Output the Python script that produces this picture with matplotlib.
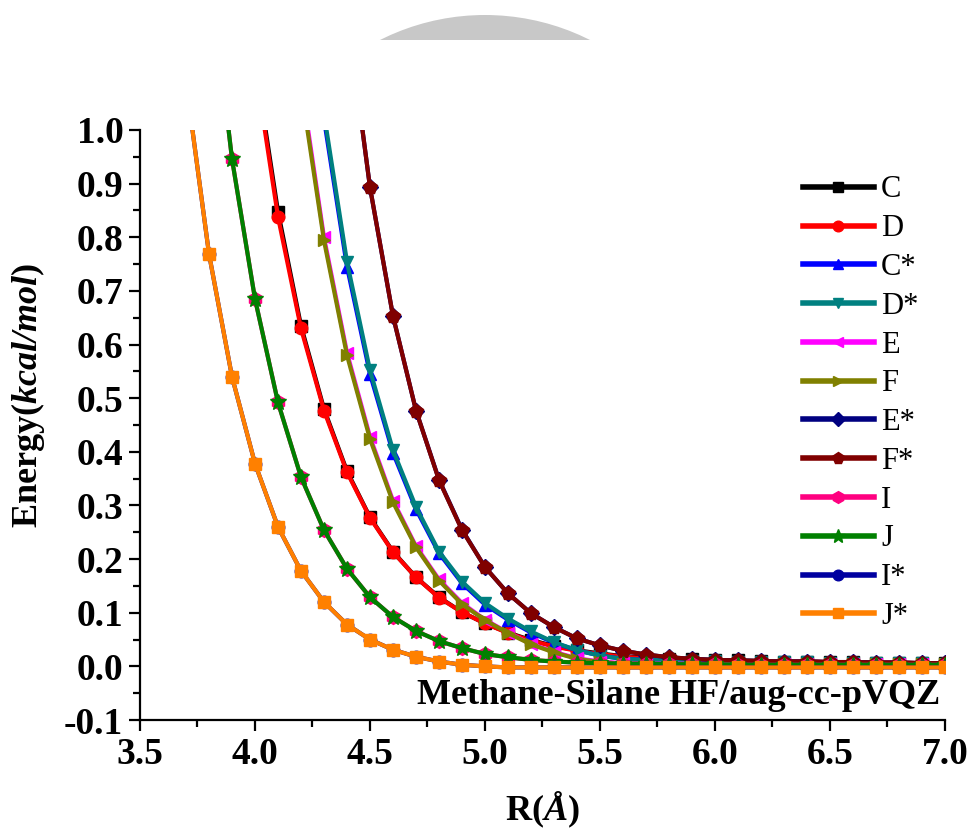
import matplotlib
matplotlib.use("Agg")
import matplotlib.pyplot as plt
from matplotlib.patches import Circle, Rectangle
import numpy as np

plt.rcParams['font.family'] = ['Liberation Serif', 'DejaVu Serif']
plt.rcParams['mathtext.fontset'] = 'custom'
plt.rcParams['mathtext.rm'] = 'Liberation Serif'
plt.rcParams['mathtext.it'] = 'Liberation Serif:italic'
plt.rcParams['mathtext.bf'] = 'Liberation Serif:bold'
plt.rcParams['mathtext.bfit'] = 'Liberation Serif:italic:bold'

# ---------------- data ----------------
x_CD = np.round(np.arange(4.0, 7.001, 0.1), 2)
C = [1.13, 0.848, 0.635, 0.480, 0.364, 0.278, 0.214, 0.166, 0.129, 0.101, 0.080,
     0.063, 0.049, 0.038, 0.030, 0.024, 0.019, 0.016, 0.014, 0.013, 0.012,
     0.011, 0.010, 0.009, 0.009, 0.008, 0.008, 0.007, 0.007, 0.006, 0.006]
D = [1.12, 0.838, 0.630, 0.477, 0.362, 0.277, 0.213, 0.166, 0.128, 0.101, 0.080,
     0.062, 0.048, 0.037, 0.029, 0.023, 0.018, 0.015, 0.013, 0.012, 0.011,
     0.010, 0.010, 0.009, 0.009, 0.008, 0.008, 0.007, 0.007, 0.006, 0.006]

x_CsDs = np.round(np.arange(4.3, 7.001, 0.1), 2)
Cs = [1.02, 0.745, 0.545, 0.398, 0.293, 0.211, 0.155, 0.115, 0.087, 0.063, 0.044,
      0.030, 0.020, 0.014, 0.012, 0.011, 0.010, 0.010, 0.009, 0.009, 0.008,
      0.008, 0.007, 0.007, 0.006, 0.006, 0.006, 0.005]
Ds = [1.03, 0.754, 0.552, 0.403, 0.297, 0.214, 0.158, 0.118, 0.089, 0.065, 0.045,
      0.030, 0.020, 0.014, 0.012, 0.011, 0.010, 0.010, 0.009, 0.009, 0.008,
      0.008, 0.007, 0.007, 0.006, 0.006, 0.006, 0.005]

x_EF = np.round(np.arange(4.2, 7.001, 0.1), 2)
E = [1.09, 0.800, 0.585, 0.428, 0.309, 0.224, 0.162, 0.118, 0.087, 0.063, 0.042,
     0.027, 0.015, 0.009, 0.006, 0.005, 0.005, 0.005, 0.005, 0.005, 0.005,
     0.005, 0.005, 0.005, 0.005, 0.005, 0.005, 0.005, 0.005]
F = [1.08, 0.794, 0.580, 0.424, 0.306, 0.222, 0.160, 0.116, 0.086, 0.062, 0.041,
     0.026, 0.014, 0.008, 0.005, 0.004, 0.004, 0.004, 0.004, 0.004, 0.004,
     0.004, 0.004, 0.004, 0.004, 0.004, 0.004, 0.004, 0.004]

x_EsFs = np.round(np.arange(4.4, 7.001, 0.1), 2)
Es = [1.22, 0.893, 0.653, 0.477, 0.348, 0.255, 0.185, 0.136, 0.099, 0.073, 0.052,
      0.039, 0.029, 0.022, 0.017, 0.014, 0.012, 0.011, 0.010, 0.009, 0.009,
      0.008, 0.008, 0.007, 0.007, 0.006, 0.006]
Fs = [1.22, 0.893, 0.653, 0.477, 0.347, 0.254, 0.185, 0.136, 0.099, 0.073, 0.052,
      0.039, 0.029, 0.022, 0.017, 0.014, 0.012, 0.011, 0.010, 0.009, 0.009,
      0.008, 0.008, 0.007, 0.007, 0.006, 0.006]

x_IJ = np.round(np.arange(3.8, 7.001, 0.1), 2)
I = [1.31, 0.946, 0.685, 0.492, 0.353, 0.254, 0.182, 0.129, 0.092, 0.066, 0.047,
     0.034, 0.023, 0.017, 0.012, 0.009, 0.007, 0.006, 0.005, 0.005, 0.004,
     0.004, 0.004, 0.003, 0.003, 0.003, 0.003, 0.003, 0.003, 0.003, 0.003,
     0.003, 0.003]
J = [1.31, 0.946, 0.685, 0.492, 0.353, 0.254, 0.182, 0.129, 0.092, 0.066, 0.047,
     0.034, 0.023, 0.017, 0.012, 0.009, 0.007, 0.006, 0.005, 0.005, 0.004,
     0.004, 0.004, 0.003, 0.003, 0.003, 0.003, 0.003, 0.003, 0.003, 0.003,
     0.003, 0.003]

x_IsJs = np.round(np.arange(3.7, 7.001, 0.1), 2)
Is = [1.09, 0.769, 0.540, 0.378, 0.260, 0.178, 0.120, 0.078, 0.050, 0.031, 0.018,
      0.009, 0.003, 0.000, -0.002, -0.002, -0.002, -0.002, -0.002, -0.002, -0.002,
      -0.002, -0.002, -0.002, -0.002, -0.002, -0.002, -0.002, -0.002, -0.002,
      -0.002, -0.002, -0.002, -0.002]
Js = list(Is)

labels = ['C', 'D', 'C*', 'D*', 'E', 'F', 'E*', 'F*', 'I', 'J', 'I*', 'J*']
colors = ['#000000', '#FF0000', '#0000FF', '#008080', '#FF00FF', '#808000',
          '#000080', '#800000', '#FF0080', '#008000', '#0000A0', '#FF8000']
markers = ['s', 'o', '^', 'v', '<', '>', 'D', 'p', 'h', '*', 'o', 's']
xs = [x_CD, x_CD, x_CsDs, x_CsDs, x_EF, x_EF, x_EsFs, x_EsFs, x_IJ, x_IJ, x_IsJs, x_IsJs]
ys = [C, D, Cs, Ds, E, F, Es, Fs, I, J, Is, Js]
msizes = [8, 9, 9, 9, 9, 9, 8, 10, 10, 12, 9, 9]

x_ticks = [3.5, 4.0, 4.5, 5.0, 5.5, 6.0, 6.5, 7.0]
y_ticks = [-0.1, 0.0, 0.1, 0.2, 0.3, 0.4, 0.5, 0.6, 0.7, 0.8, 0.9, 1.0]

# ---------------- figure ----------------
W, H = 968, 834
fig = plt.figure(figsize=(W / 100, H / 100), dpi=100)

# watermark arc at top
wm = fig.add_axes([0, 0, 1, 1], zorder=-5)
wm.set_xlim(0, W)
wm.set_ylim(H, 0)
wm.axis('off')
clip = Rectangle((0, 0), W, 40, transform=wm.transData)
circ = Circle((485, 248), 233, facecolor='#c8c8c8', edgecolor='none')
wm.add_patch(circ)
circ.set_clip_path(clip)

ax = fig.add_axes([140 / W, 1 - 720 / H, (945 - 140) / W, (720 - 130) / H])
ax.patch.set_alpha(0)

for x, y, lab, c, m, ms in zip(xs, ys, labels, colors, markers, msizes):
    ax.plot(x, y, color=c, marker=m, markersize=ms, linewidth=3.0,
            markeredgecolor=c, label=lab)

ax.set_xlim(3.5, 7.0)
ax.set_ylim(-0.1, 1.0)
ax.set_xticks(x_ticks)
ax.set_yticks(y_ticks)
ax.set_xticks(np.arange(3.75, 7.0, 0.5), minor=True)
ax.set_yticks(np.arange(-0.05, 1.0, 0.1), minor=True)
ax.set_xticklabels([f'{v:.1f}' for v in x_ticks])
ax.set_yticklabels([f'{v:.1f}' for v in y_ticks])

for sp in ['top', 'right']:
    ax.spines[sp].set_visible(False)
for sp in ['left', 'bottom']:
    ax.spines[sp].set_linewidth(1.6)

ax.tick_params(which='major', direction='out', length=8, width=1.6,
               labelsize=27, pad=4)
ax.tick_params(which='minor', direction='out', length=5, width=1.6)
for t in ax.get_xticklabels() + ax.get_yticklabels():
    t.set_fontweight('bold')

ax.set_ylabel(r'$\mathbf{Energy(}\mathbfit{kcal/mol}\mathbf{)}$', fontsize=26)
ax.yaxis.set_label_coords(-0.116, 0.551)
ax.set_xlabel(r'$\mathbf{R(}\mathbfit{Å}\mathbf{)}$', fontsize=26, labelpad=13)

ax.text(0.994, 0.042, 'Methane-Silane HF/aug-cc-pVQZ', transform=ax.transAxes,
        ha='right', va='center', fontsize=26, fontweight='bold')

leg = ax.legend(loc='upper right', bbox_to_anchor=(0.99, 0.954), frameon=False,
                fontsize=22, handlelength=2.3, handletextpad=0.25,
                labelspacing=0.32, borderaxespad=0.2, markerscale=0.85)
for ln in leg.get_lines():
    ln.set_linewidth(4)

fig.savefig('out.png', dpi=100)
